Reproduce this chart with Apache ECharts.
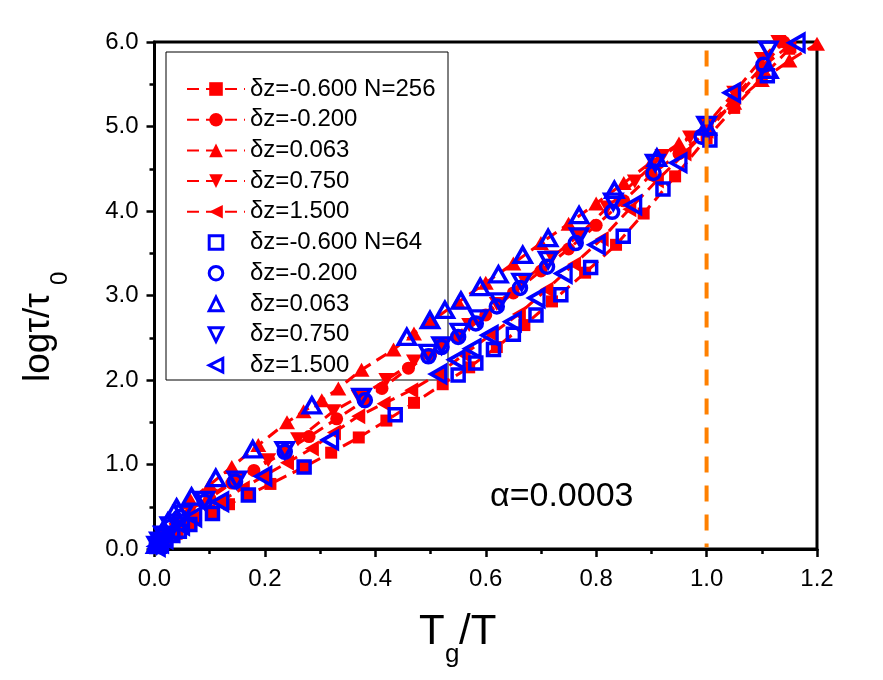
<!DOCTYPE html>
<html><head><meta charset="utf-8">
<script src="https://cdn.jsdelivr.net/npm/echarts@6/dist/echarts.min.js"></script>
<style>html,body{margin:0;padding:0;background:#fff}#c{width:883px;height:680px}</style>
</head><body><div id="c"></div>
<script>
// ---- tick labels ----
const xTickLabels = ['0.0','0.2','0.4','0.6','0.8','1.0','1.2'];
const yTickLabels = ['0.0','1.0','2.0','3.0','4.0','5.0','6.0'];

// ---- series names ----
const redNames  = ['δz=-0.600 N=256','δz=-0.200','δz=0.063','δz=0.750','δz=1.500'];
const blueNames = ['δz=-0.600 N=64','δz=-0.200\u200B','δz=0.063\u200B','δz=0.750\u200B','δz=1.500\u200B'];

// ---- N=256 (red, filled, dashed lines) ----
const r1x = [0.008,0.02,0.04,0.065,0.104,0.135,0.17,0.21,0.271,0.32,0.37,0.42,0.47,0.522,0.57,0.62,0.67,0.72,0.78,0.836,0.886,0.943,1.0,1.05,1.1,1.15];
const r1y = [0.05,0.10,0.18,0.29,0.42,0.53,0.64,0.77,0.97,1.14,1.32,1.52,1.73,1.95,2.15,2.39,2.65,2.93,3.27,3.60,3.97,4.41,4.86,5.22,5.58,5.92];
const r2x = [0.008,0.02,0.04,0.065,0.1,0.14,0.18,0.236,0.28,0.33,0.381,0.412,0.46,0.5,0.55,0.6,0.65,0.7,0.75,0.8,0.85,0.9,0.95,1.0,1.05,1.1,1.14];
const r2y = [0.06,0.15,0.28,0.42,0.60,0.78,0.93,1.15,1.33,1.54,1.76,1.90,2.14,2.30,2.51,2.77,3.03,3.29,3.55,3.83,4.12,4.43,4.68,4.93,5.30,5.70,6.00];
const r3x = [0.008,0.02,0.04,0.065,0.1,0.14,0.188,0.24,0.27,0.303,0.333,0.375,0.433,0.47,0.5,0.55,0.6,0.65,0.7,0.75,0.8,0.85,0.9,0.95,1.0,1.05,1.1,1.15,1.2];
const r3y = [0.09,0.20,0.38,0.58,0.76,0.97,1.23,1.50,1.63,1.76,1.90,2.12,2.36,2.55,2.69,2.92,3.15,3.38,3.62,3.85,4.09,4.33,4.58,4.80,5.00,5.28,5.55,5.78,5.98];
const r4x = [0.008,0.02,0.04,0.065,0.1,0.15,0.206,0.26,0.324,0.37,0.42,0.47,0.52,0.57,0.62,0.67,0.72,0.77,0.82,0.87,0.92,0.97,1.0,1.05,1.1,1.13];
const r4y = [0.07,0.17,0.30,0.45,0.63,0.83,1.05,1.30,1.63,1.80,2.00,2.22,2.42,2.65,2.90,3.18,3.45,3.72,4.04,4.35,4.65,4.87,5.02,5.40,5.80,6.00];
const r5x = [0.008,0.02,0.04,0.07,0.119,0.16,0.197,0.24,0.285,0.325,0.369,0.415,0.465,0.514,0.56,0.61,0.66,0.71,0.76,0.81,0.86,0.91,0.96,1.0,1.05,1.1,1.15];
const r5y = [0.05,0.12,0.22,0.36,0.56,0.72,0.86,1.02,1.19,1.38,1.57,1.72,1.88,2.07,2.30,2.54,2.78,3.07,3.37,3.67,4.02,4.36,4.68,4.95,5.35,5.70,5.96];

// ---- N=64 (blue, hollow) ----
const b1x = [0.004,0.010,0.020,0.033,0.045,0.064,0.105,0.170,0.271,0.436,0.550,0.582,0.614,0.650,0.691,0.736,0.790,0.849,0.921,1.006,1.110];
const b1y = [0.03,0.06,0.10,0.16,0.21,0.29,0.42,0.64,0.97,1.59,2.06,2.20,2.36,2.54,2.77,3.01,3.33,3.70,4.26,4.84,5.60];
const b2x = [0.004,0.009,0.017,0.028,0.046,0.091,0.146,0.236,0.381,0.496,0.520,0.550,0.582,0.620,0.662,0.711,0.763,0.829,0.904,0.991,1.103];
const b2y = [0.05,0.10,0.17,0.26,0.38,0.56,0.80,1.15,1.76,2.28,2.39,2.51,2.67,2.87,3.09,3.34,3.62,3.99,4.45,4.88,5.73];
const b3x = [0.003,0.007,0.012,0.024,0.040,0.067,0.111,0.178,0.285,0.457,0.499,0.526,0.555,0.590,0.623,0.667,0.713,0.769,0.833,0.910,1.000,1.112];
const b3y = [0.05,0.10,0.17,0.32,0.49,0.62,0.84,1.18,1.70,2.51,2.71,2.83,2.94,3.10,3.25,3.48,3.68,3.95,4.25,4.63,5.00,5.67];
const b4x = [0.004,0.009,0.016,0.028,0.052,0.091,0.149,0.236,0.375,0.496,0.520,0.553,0.587,0.625,0.665,0.713,0.769,0.831,0.907,1.000,1.112];
const b4y = [0.05,0.10,0.17,0.28,0.42,0.58,0.82,1.17,1.80,2.32,2.41,2.57,2.73,2.93,3.16,3.42,3.70,4.11,4.57,5.02,5.91];
const b5x = [0.004,0.010,0.018,0.030,0.048,0.070,0.119,0.197,0.318,0.514,0.547,0.576,0.607,0.649,0.692,0.741,0.801,0.867,0.949,1.046,1.163];
const b5y = [0.03,0.07,0.12,0.20,0.28,0.38,0.56,0.86,1.29,2.07,2.24,2.37,2.53,2.69,2.97,3.26,3.60,4.07,4.57,5.40,5.99];

// ---- reference line (Tg/T = 1) ----
const refX = [1.0, 1.0];
const refY = [5.9, 0.02];

const FONT = '"Liberation Sans", Arial, sans-serif';
const pairs = (xs, ys) => xs.map((x, i) => [x, ys[i]]);

const redData  = [[r1x,r1y],[r2x,r2y],[r3x,r3y],[r4x,r4y],[r5x,r5y]];
const blueData = [[b1x,b1y],[b2x,b2y],[b3x,b3y],[b4x,b4y],[b5x,b5y]];
const symbols  = ['rect','circle','triangle','triangle','triangle'];
const rotates  = [0,0,0,180,90];
const redSizes = [12,13,[16,14],[16,14],[16,14]];
const blueSizes= [12,13,[17,15],[17,15],[17,15]];

const blueItem = { color: 'rgba(255,255,255,0)', borderColor: '#0000ff', borderWidth: 3.5 };

const series = [];
redData.forEach((d, i) => {
  series.push({
    type: 'line', name: redNames[i], data: pairs(d[0], d[1]),
    symbol: symbols[i], symbolSize: redSizes[i], symbolRotate: rotates[i],
    showSymbol: true, itemStyle: { color: '#ff0000' },
    lineStyle: { color: '#ff0000', width: 3, type: [12, 7] },
    emphasis: { disabled: true }, z: 2, animation: false
  });
});
blueData.forEach((d, i) => {
  series.push({
    type: 'line', name: blueNames[i], data: pairs(d[0], d[1]),
    symbol: symbols[i], symbolSize: blueSizes[i], symbolRotate: rotates[i],
    showSymbol: true,
    itemStyle: blueItem,
    lineStyle: { width: 0, color: 'rgba(0,0,0,0)', opacity: 0 },
    emphasis: { disabled: true }, z: 3, animation: false
  });
});
series.push({
  type: 'line', name: 'ref', data: pairs(refX, refY), symbol: 'none',
  lineStyle: { color: '#ff8000', width: 4, type: [16, 13] },
  emphasis: { disabled: true }, z: 5, animation: false, silent: true
});

const legendData = redNames.map(n => ({ name: n }))
  .concat(blueNames.map(n => ({ name: n, itemStyle: { color: 'rgba(255,255,255,0)', borderColor: '#0000ff', borderWidth: 3 } })));

const chart = echarts.init(document.getElementById('c'), null, { renderer: 'canvas' });
chart.setOption({
  animation: false,
  backgroundColor: '#fff',
  grid: { left: 154.5, right: 66, top: 42, bottom: 131, containLabel: false, outerBoundsMode: 'none',
          show: true, borderColor: '#000', borderWidth: 3, backgroundColor: 'transparent' },
  xAxis: {
    type: 'value', min: 0, max: 1.2, interval: 0.2,
    axisLine: { show: true, lineStyle: { color: '#000', width: 3 } },
    axisTick: { show: true, inside: false, length: 8, lineStyle: { color: '#000', width: 2.5 } },
    minorTick: { show: true, splitNumber: 2, length: 5, lineStyle: { color: '#000', width: 2.5 } },
    splitLine: { show: false }, minorSplitLine: { show: false },
    axisLabel: { margin: 18, fontSize: 24, fontFamily: FONT, color: '#000', showMinLabel: true, showMaxLabel: true,
                 formatter: (v) => xTickLabels[Math.round(v / 0.2)] }
  },
  yAxis: {
    type: 'value', min: 0, max: 6, interval: 1,
    axisLine: { show: true, lineStyle: { color: '#000', width: 3 } },
    axisTick: { show: true, inside: false, length: 8, lineStyle: { color: '#000', width: 2.5 } },
    minorTick: { show: true, splitNumber: 2, length: 5, lineStyle: { color: '#000', width: 2.5 } },
    splitLine: { show: false }, minorSplitLine: { show: false },
    axisLabel: { margin: 16, fontSize: 24, fontFamily: FONT, color: '#000', showMinLabel: true, showMaxLabel: true,
                 formatter: (v) => yTickLabels[Math.round(v)] }
  },
  legend: {
    orient: 'vertical', left: 186, top: 77, padding: 0, itemGap: 6.7,
    itemWidth: 58, itemHeight: 17, symbolKeepAspect: true,
    data: legendData,
    textStyle: { fontSize: 24, fontFamily: FONT, color: '#000', lineHeight: 24 },
    selectedMode: false
  },
  graphic: [
    { type: 'rect', z: 1, shape: { x: 166, y: 52, width: 282, height: 328 },
      style: { fill: 'none', stroke: '#000', lineWidth: 1 } },
    { type: 'text', x: 490, y: 497, z: 10,
      style: { text: 'α=0.0003', font: '34px ' + FONT, fill: '#000', verticalAlign: 'middle' } },
    { type: 'group', z: 10, children: [
      { type: 'text', x: 419, y: 632, style: { text: 'T', font: '42px ' + FONT, fill: '#000', verticalAlign: 'middle' } },
      { type: 'text', x: 445, y: 655, style: { text: 'g', font: '26px ' + FONT, fill: '#000', verticalAlign: 'middle' } },
      { type: 'text', x: 459, y: 632, style: { text: '/T', font: '42px ' + FONT, fill: '#000', verticalAlign: 'middle' } }
    ]},
    { type: 'group', z: 10, x: 39, y: 382, rotation: Math.PI / 2, children: [
      { type: 'text', x: 0, y: 0, style: { text: 'logτ/τ', font: '37px ' + FONT, fill: '#000', verticalAlign: 'middle' } },
      { type: 'text', x: 97, y: 21, style: { text: '0', font: '24px ' + FONT, fill: '#000', verticalAlign: 'middle' } }
    ]}
  ],
  series: series
});
</script>
</body></html>
